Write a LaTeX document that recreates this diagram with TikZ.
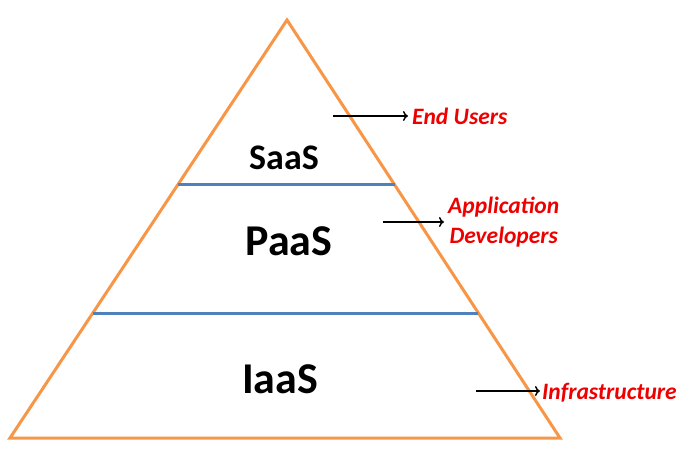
\documentclass[tikz,border=0pt]{standalone}
\usepackage{fontspec}
\setmainfont{Carlito}
\usepackage{xcolor}
\usetikzlibrary{arrows.meta}
\usetikzlibrary{positioning, calc}
\definecolor{pyramidorange}{HTML}{F79646}
\definecolor{layerblue}{HTML}{4F81BD}
\definecolor{labelred}{HTML}{EE0000}
\tikzset{
layer/.style = { draw = none, fill = none, inner sep = 0pt, font = \bfseries },
role/.style = { draw = none, fill = none, inner sep = 4pt, text = labelred, font = \bfseries\itshape\fontsize{23.5}{30}\selectfont },
}

\begin{document}
\begin{tikzpicture}[x=1pt, y=-1pt]
    \useasboundingbox (0,0) rectangle (686,455);
    % pyramid
    \coordinate (top) at (287,20);
    \coordinate (bl) at (10,438);
    \coordinate (br) at (560,438);
    \draw[pyramidorange, line width=3pt, line join=miter] (top) -- (br) -- (bl) -- cycle;
    \draw[layerblue, line width=3pt] ($(top)!0.3947!(bl)$) -- ($(top)!0.3947!(br)$);
    \draw[layerblue, line width=3pt] ($(top)!0.701!(bl)$) -- ($(top)!0.701!(br)$);
    \begin{scope}[every node/.style={layer}]
      \node[font=\bfseries\fontsize{36}{40}\selectfont] (saas) at (284,158) {SaaS};
      \node[font=\bfseries\fontsize{44}{48}\selectfont] (paas) at (289,241) {PaaS};
      \node[font=\bfseries\fontsize{44}{48}\selectfont] (iaas) at (280,379) {IaaS};
    \end{scope}
    \begin{scope}[every node/.style={role}]
      \node[anchor=west] (users) at (408,116) {End Users};
      \node[anchor=west, align=center] (devs) at (444,222) {Application\\Developers};
      \node[anchor=west, inner sep=2pt] (infra) at (540,393) {Infrastructure};
    \end{scope}
    \coordinate (a1) at (333,116);
    \coordinate (a2) at (383,222);
    \coordinate (a3) at (476,391);
    \begin{scope}[>={To[length=5pt, width=10pt]}, line width=1.5pt]
      \path [->] (a1) edge (users.west);
      \path [->] (a2) edge (devs.west);
      \path [->] (a3) edge (infra.west |- a3);
    \end{scope}
\end{tikzpicture}
\end{document}
